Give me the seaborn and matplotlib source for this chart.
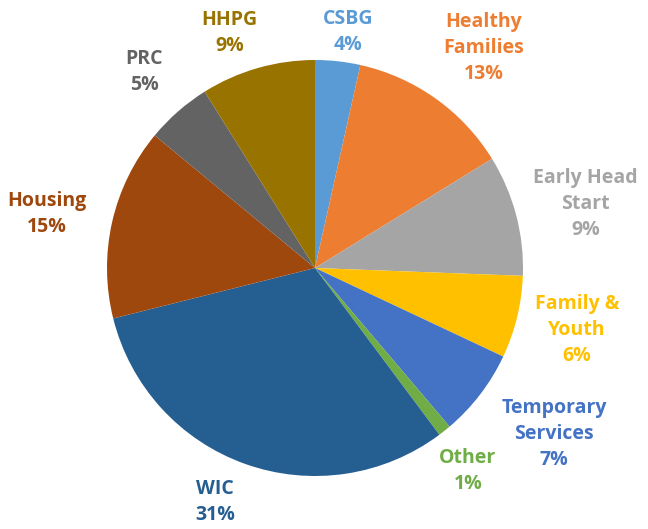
import matplotlib
matplotlib.use("Agg")
import numpy as np
import matplotlib.pyplot as plt
import seaborn as sns

# data, clockwise from 12 o'clock (shares)
programs = ["CSBG", "Healthy\nFamilies", "Early Head\nStart", "Family &\nYouth",
            "Temporary\nServices", "Other", "WIC", "Housing", "PRC", "HHPG"]
shares = [3.5, 12.7, 9.4, 6.4, 6.8, 1.0, 31.3, 14.9, 5.1, 8.9]
colors = ["#5B9BD5", "#ED7D31", "#A5A5A5", "#FFC000", "#4472C4",
          "#70AD47", "#255E91", "#9E480E", "#636363", "#997300"]

# label spots (in pie radii) picked to match the original layout
label_pos = [(0.16, 1.135), (0.81, 1.06), (1.30, 0.31), (1.26, -0.30),
             (1.15, -0.80), (0.735, -0.975), (-0.48, -1.125), (-1.29, 0.26),
             (-0.82, 0.94), (-0.41, 1.13)]

sns.set_theme(style="white")
plt.rcParams["font.family"] = ["Open Sans", "DejaVu Sans"]

fig = plt.figure(figsize=(6.48, 5.29), dpi=100)
ax = fig.add_axes([107 / 648, 53 / 529, 416 / 648, 416 / 529])

ax.pie(shares, colors=colors, startangle=90, counterclock=False,
       wedgeprops=dict(linewidth=0))

for name, val, col, (x, y) in zip(programs, shares, colors, label_pos):
    ax.text(x, y, f"{name}\n{int(val + 0.5)}%", color=col, ha="center", va="center",
            fontsize=14, fontweight="bold", linespacing=1.4)

ax.set_xlim(-1, 1)
ax.set_ylim(-1, 1)
ax.set_aspect("auto")
ax.axis("off")

fig.savefig("out.png", dpi=100)
